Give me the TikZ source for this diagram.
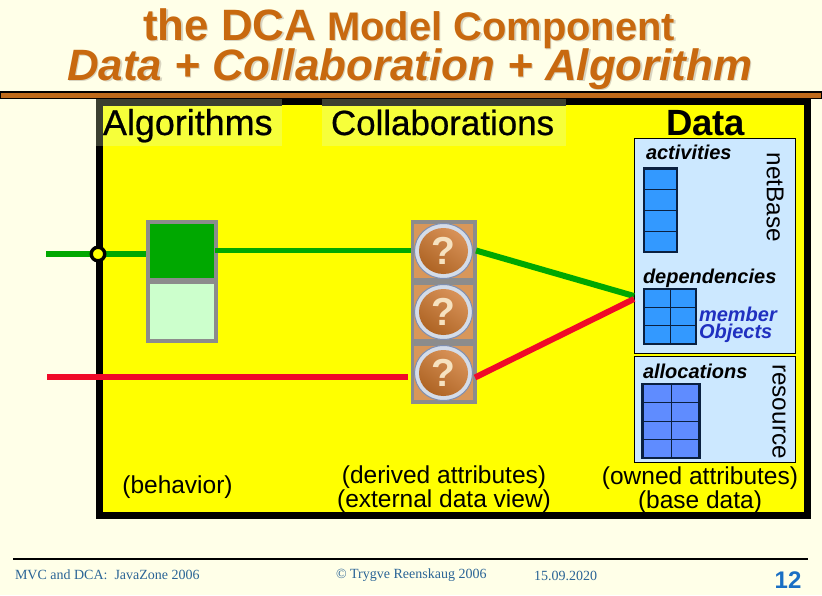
\documentclass[tikz,border=0pt]{standalone}
\usepackage{fontspec}
\setmainfont{Liberation Sans}
\newfontfamily\serifx{Liberation Serif}
\newfontfamily\fatsans[FakeBold=0.6]{Liberation Sans}
\usetikzlibrary{shadings}
\definecolor{pagebg}{HTML}{FFFFE8}
\definecolor{titlec}{HTML}{C8690F}
\definecolor{shadowc}{HTML}{D8D4C0}
\definecolor{rulec}{HTML}{BF6A1A}
\definecolor{panel}{HTML}{FFFF00}
\definecolor{tab}{HTML}{F6FF3A}
\definecolor{tabdark}{HTML}{3C4030}
\definecolor{greenl}{HTML}{00A800}
\definecolor{redl}{HTML}{F00A28}
\definecolor{lightg}{HTML}{CCFFCC}
\definecolor{greyb}{HTML}{8C8C8C}
\definecolor{lblue}{HTML}{CCE8FF}
\definecolor{gridb}{HTML}{3399FF}
\definecolor{gridc}{HTML}{5F8CFF}
\definecolor{gridl}{HTML}{0A2040}
\definecolor{footc}{HTML}{2A6496}
\definecolor{pagenum}{HTML}{1A6FC4}
\definecolor{memberc}{HTML}{2030C0}
\definecolor{btnl}{HTML}{D89258}
\definecolor{btnd}{HTML}{AE6424}
\definecolor{btnsq}{HTML}{D8975A}
\definecolor{ringl}{HTML}{D4DCE8}
\definecolor{ringd}{HTML}{7F8FB0}
\definecolor{qmark}{HTML}{F6E2C0}
\tikzset{
 px/.style={inner sep=0pt,outer sep=0pt},
 tlabel/.style={px,text=black},
 mlabel/.style={px,font=\fontsize{24.5}{22.5}\selectfont,align=center,text=black},
 slabel/.style={px,font=\bfseries\itshape\fontsize{20}{17}\selectfont,text=black,anchor=west},
 vlabel/.style={px,font=\fontsize{24.3}{24}\selectfont,rotate=-90,text=black},
 foot/.style={px,font=\serifx\fontsize{14}{14}\selectfont,text=footc,anchor=west},
 gline/.style={greenl,line width=5pt},
 gthick/.style={greenl,line width=6pt},
 rline/.style={redl,line width=6pt},
 titleone/.style={px,text=titlec,font=\bfseries\fontsize{43.9}{43}\selectfont},
 titletwo/.style={px,text=titlec,font=\bfseries\itshape\fontsize{43.9}{43}\selectfont},
 titleshadow/.style={text=shadowc},
 qbtn/.style={px,minimum width=59pt,minimum height=54pt,fill=btnsq}
}
\newcommand{\gridbox}[8]{%
 \node[px,fill=#7,draw=gridl,line width=2.6pt,minimum width={(#3-#1)*1pt},minimum height={(#4-#2)*1pt}] (#8) at ({(#1+#3)/2},{(#2+#4)/2}) {};
 \foreach \i in {1,...,#6}{\ifnum\i<#6\relax\draw[gridl,line width=1pt] (#1,{#2+(#4-#2)*\i/#6}) -- (#3,{#2+(#4-#2)*\i/#6});\fi}
 \ifnum#5>1\relax\draw[gridl,line width=1pt] ({(#1+#3)/2},#2) -- ({(#1+#3)/2},#4);\fi
}
\newcommand{\qbutton}[3]{%
 \node[qbtn] (#3sq) at (#1,#2) {};
 \fill[ringl,draw=ringd,line width=1pt] (#1,#2) ellipse (29 and 27.5);
 \shade[top color=btnl,bottom color=btnd,shading angle=-35] (#1,#2) ellipse (24.5 and 23);
 \node[px,text=qmark,font=\bfseries\fontsize{39}{39}\selectfont] (#3) at (#1,{#2-0.5}) {?};
}
\begin{document}
\begin{tikzpicture}[x=1pt,y=-1pt]
\useasboundingbox (0,0) rectangle (822,595);
\fill[pagebg] (0,0) rectangle (822,595);
% titles
\node[titleone,titleshadow,anchor=base west] at (144.5,41.5) {the DCA\fontsize{39.9}{39}\selectfont{} Model Component};
\node[titleone,anchor=base west] (t1) at (143,40) {the DCA\fontsize{39.9}{39}\selectfont{} Model Component};
\node[titletwo,titleshadow,anchor=base west] at (68.5,81.5) {Data + Collaboration + Algorithm};
\node[titletwo,anchor=base west] (t2) at (67,80) {Data + Collaboration + Algorithm};
% panel
\fill[black] (96,98) rectangle (811,519);
\fill[panel] (103,105) rectangle (804,512);
% tabs
\fill[tabdark] (96,97) rectangle (282,146);
\fill[tab] (103,106) rectangle (282,146);
\fill[tabdark] (322,97) rectangle (566,106);
\fill[tab] (322,106) rectangle (566,146);
% header rule
\fill[black] (0,91) rectangle (822,99);
\fill[rulec] (1,93) rectangle (821,97.5);
% tab labels
\node[tlabel,anchor=base west] (alg) at (103,135) {\fatsans\fontsize{35.9}{35}\selectfont Algorithms};
\node[tlabel,anchor=base west] (col) at (331,135) {\fatsans\fontsize{34.9}{34}\selectfont Collaborations};
\node[px,anchor=base west,font=\bfseries\fontsize{36.5}{36}\selectfont] (dat) at (666,135) {Data};
% blue boxes
\node[px,fill=lblue,draw=black,line width=.7pt,minimum width=161pt,minimum height=215pt] (netbase) at (714.5,245.5) {};
\node[px,fill=lblue,draw=black,line width=.7pt,minimum width=161pt,minimum height=106pt] (resbox) at (714.5,409) {};
\gridbox{644}{168.5}{677}{252}{1}{4}{gridb}{gact}
\gridbox{644}{289}{696}{344}{2}{3}{gridb}{gdep}
\gridbox{642.5}{384}{699.5}{458}{2}{4}{gridc}{gall}
\node[slabel] (lact) at (646,152) {activities};
\node[slabel] (ldep) at (643,278) {dependencies};
\node[px,anchor=west,align=left,text=memberc,font=\bfseries\itshape\fontsize{20}{17}\selectfont] (lmem) at (699,325) {member\\Objects};
\node[slabel] (lall) at (643,371) {allocations};
\node[vlabel] (lnet) at (775,197.5) {netBase};
\node[vlabel] (lres) at (779,411.5) {resource};
% algorithm box
\coordinate (gs) at (46,254);
\node[px,fill=greyb,minimum width=72pt,minimum height=123pt] (algbox) at (182,281.5) {};
\node[px,fill=greenl,minimum width=64pt,minimum height=54pt] (algtop) at (182,251) {};
\node[px,fill=lightg,minimum width=64pt,minimum height=55pt] (algbot) at (182,311) {};
\draw[gthick] (gs) -- (algbox.west |- gs);
% collaboration column
\node[px,fill=greyb,minimum width=66pt,minimum height=184pt] (qcol) at (444,312) {};
\qbutton{443.5}{251}{qa}
\qbutton{443.5}{312}{qb}
\qbutton{443.5}{373}{qc}
% connectors
\coordinate (dj) at (634,296);
\coordinate (rj) at (634,299);
\coordinate (rs) at (47,377);
\draw[gline] (algtop.east |- 0,250.5) ++(1,0) -- (qa.center -| qcol.west);
\draw[gthick] (qcol.east |- qa) ++(-1,0) -- (dj);
\draw[rline] (rs) -- (408,377);
\draw[rline] (qcol.east |- qc) ++(-2,5) -- (rj);
% port
\node[px,circle,fill=panel,draw=black,line width=3.4pt,minimum size=13.5pt] (port) at (98,254) {};
% lower text
\node[mlabel] (beh) at (177.5,487) {(behavior)};
\node[mlabel] (der) at (444,489) {(derived attributes)\\(external data view)};
\node[mlabel] (own) at (700,490) {(owned attributes)\\(base data)};
% footer
\coordinate (fa) at (13,559);
\coordinate (fb) at (808,559);
\draw[black,line width=1.5pt] (fa) -- (fb);
\node[foot] (f1) at (15,575) {MVC and DCA:\ \ JavaZone 2006};
\node[foot] (f2) at (336,575) {© Trygve Reenskaug 2006};
\node[foot] (f3) at (534,576) {15.09.2020};
\node[px,text=pagenum,font=\bfseries\fontsize{24}{24}\selectfont] (pg) at (788,580) {12};
\end{tikzpicture}
\end{document}
